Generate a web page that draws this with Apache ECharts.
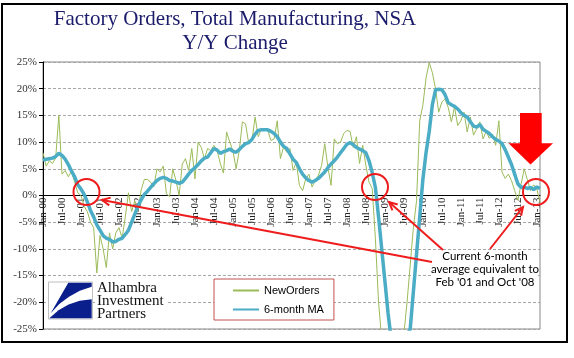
<!DOCTYPE html>
<html>
<head>
<meta charset="utf-8">
<script src="https://cdn.jsdelivr.net/npm/echarts@6/dist/echarts.min.js"></script>
<style>
html,body{margin:0;padding:0;background:#fff;}
#chart{width:574px;height:358px;}
</style>
</head>
<body>
<div id="chart"></div>
<script>
// ---- data ----
const monthNames = ['Jan','Feb','Mar','Apr','May','Jun','Jul','Aug','Sep','Oct','Nov','Dec'];
const yearLabels = ['00','01','02','03','04','05','06','07','08','09','10','11','12','13'];
const monthCount = 158; // Jan-00 .. Feb-13

const newOrders = [
  // 2000
  8, 5.5, 6.5, 6, 7, 15, 4, 4.7, 3.5, 4.5, 2.5, 0.5,
  // 2001
  0, -2, -3, -5, -6, -14.5, -7.5, -10, -13.5, -7, -10, -7,
  // 2002
  -6, -8, -4, 0.5, -3, -1, -3, 1, 3, 3, 2.5, 1.6,
  // 2003
  5, 4.4, 5.5, 0.3, -0.2, 5, 2.8, 0, 5.9, 6.9, 4.7, 8.8,
  // 2004
  3.1, 10, 9, 6.9, 8.8, 8.4, 9.4, 8.4, 6, 4.2, 11.9, 10,
  // 2005
  8.4, 5, 8.4, 13.8, 13.4, 9.7, 10.3, 14.7, 11, 12.5, 12.5, 12.2,
  // 2006
  10.3, 10.6, 14, 6.9, 9.1, 8.1, 8.8, 4.7, 6.2, 1.9, 0.9, 3.1,
  // 2007
  4, 1.6, 2.8, 3.8, 5.6, 9.7, 5.3, 1.9, 10.6, 9.7, 10, 11.6,
  // 2008
  12.2, 12, 9, 11, 6, 9.4, 5.6, 2.5, 1.3, -8, -20, -27,
  // 2009
  -30, -32, -33, -32, -33, -30, -26, -20, -13, -6, -1, 14,
  // 2010
  16.9, 22, 24.9, 23, 20, 15.6, 17.5, 18.1, 16.5, 13.8, 16.6, 13.1,
  // 2011
  14, 15.6, 11.9, 14.7, 11.3, 12.5, 13.8, 10.6, 12, 10.7, 11.5, 9.4,
  // 2012
  14, 4.4, 3.2, 4, 2.8, 0.9, -0.9, 2, 5, 3, 0.9, 2,
  // 2013
  1.3, -1.3
];

const movingAvg = [
  // 2000
  6.6, 6.8, 6.9, 7.0, 7.3, 7.9, 7.5, 6.8, 5.8, 4.6, 3.5, 2.0,
  // 2001
  1.2, 0.2, -1.2, -2.8, -4, -5.5, -6.5, -7.5, -8, -8.2, -8.7, -8.6,
  // 2002
  -8.2, -8, -7.3, -6.5, -5, -3.5, -2, -0.8, 0.2, 0.8, 1.5, 2.2,
  // 2003
  2.8, 3.2, 3.4, 3.2, 2.8, 2.7, 2.5, 2.3, 2.5, 3.2, 4, 4.7,
  // 2004
  5.2, 5.8, 6.5, 7, 7.2, 8, 8.8, 8.5, 7.9, 8.2, 8.4, 8.7,
  // 2005
  8.3, 8.1, 8.6, 9.2, 9.7, 9.9, 10.5, 11.5, 12.2, 12.3, 12.3, 12.3,
  // 2006
  12, 11.6, 11, 10, 9.2, 8.8, 7.8, 6.8, 6.2, 5, 4, 3.3,
  // 2007
  2.8, 2.5, 2.8, 3.2, 3.8, 4.4, 5.2, 5.9, 6.5, 7.2, 8, 8.8,
  // 2008
  9.6, 9.9, 9.5, 9, 8.7, 8.4, 8, 6.5, 4.3, 1.5, -4, -10,
  // 2009
  -16, -22, -27, -30, -31, -30, -28, -26, -25, -18, -11, -4,
  // 2010
  3, 8, 12, 17, 19.8, 19.9, 19.8, 18.9, 17.4, 17, 16.7, 16.2,
  // 2011
  15.5, 15, 14.7, 13.8, 13, 12.8, 13.3, 12.4, 12, 11.6, 11, 10.5,
  // 2012
  10.2, 9.7, 8.6, 7.2, 5.8, 4, 2.2, 1.5, 1.6, 1.3, 1.5, 1.1,
  // 2013
  1.6, 1.3
];

const seriesNames = ['NewOrders', '6-month MA'];
const titleLines = ['Factory Orders, Total Manufacturing, NSA', 'Y/Y Change'];
const noteLines = ['Current 6-month', 'average equivalent to', "Feb '01 and Oct '08"];
const logoLines = ['Alhambra', 'Investment', 'Partners'];

const categories = [];
for (let i = 0; i < monthCount; i++) {
  categories.push(monthNames[i % 12] + '-' + yearLabels[Math.floor(i / 12)]);
}

// ---- layout ----
const GRID = {left:43, right:34, top:62, bottom:29};
const PLOT_BOTTOM = 358 - GRID.bottom;
const ZERO_Y = GRID.top + (PLOT_BOTTOM - GRID.top) / 2;

// ---- helpers for annotation arrows ----
function arrowHead(x1, y1, x2, y2, len, ang) {
  const a = Math.atan2(y1 - y2, x1 - x2);
  return [
    [x2 + len * Math.cos(a + ang), y2 + len * Math.sin(a + ang)],
    [x2, y2],
    [x2 + len * Math.cos(a - ang), y2 + len * Math.sin(a - ang)]
  ];
}
const RED = '#ee1c1c';
function arrow(x1, y1, x2, y2) {
  return [
    {type:'line', z:100, shape:{x1:x1, y1:y1, x2:x2, y2:y2}, style:{stroke:RED, lineWidth:2}},
    {type:'polyline', z:100, shape:{points:arrowHead(x1, y1, x2, y2, 9, 0.45)}, style:{stroke:RED, lineWidth:2, fill:null}}
  ];
}
function ring(cx, cy, r) {
  return {type:'circle', z:100, shape:{cx:cx, cy:cy, r:r}, style:{fill:null, stroke:RED, lineWidth:2}};
}

const chart = echarts.init(document.getElementById('chart'), null, {renderer:'canvas'});

const graphics = [
  // outer frame
  {type:'rect', z:50, shape:{x:2, y:4, width:565, height:338}, style:{fill:null, stroke:'#000', lineWidth:2}},
  // title
  {type:'text', z:60, x:235, y:7, style:{text:titleLines.join('\n'), textAlign:'center', fill:'#1b1b6b',
     font:'21px "Liberation Serif"', lineHeight:24}},
  // logo
  {type:'rect', z:60, shape:{x:95, y:281, width:72, height:39}, style:{fill:'#fff', stroke:null}},
  {type:'rect', z:60, shape:{x:48.5, y:282, width:44, height:37}, style:{fill:'#fff', stroke:'#bfbfbf', lineWidth:1}},
  {type:'polygon', z:61, shape:{points:[[68.3,282.7],[91.7,282.7],[91.7,286.7],[79.8,290.8],[69,296.7],[59.3,304.1],[50.7,313.3]]}, style:{fill:'#0b1f8c'}},
  {type:'polygon', z:61, shape:{points:[[49.3,318.3],[91.7,318.3],[91.7,299.3],[79.7,300.8],[68.6,304.4],[58.5,310.3]]}, style:{fill:'#0b1f8c'}},
  {type:'text', z:61, x:97, y:282, style:{text:logoLines.join('\n'), fill:'#111', font:'15px "Liberation Serif"', lineHeight:12.7}},
  // note text
  {type:'rect', z:60, shape:{x:433, y:250, width:104, height:40}, style:{fill:'#fff', stroke:null}},
  {type:'text', z:61, x:485, y:250, style:{text:noteLines.join('\n'), textAlign:'center', fill:'#000', font:'11.5px Lato', lineHeight:12.8}},
  // rings
  ring(86.5, 192, 13),
  ring(375, 187, 13),
  ring(536, 192, 13),
  // big down arrow
  {type:'polygon', z:100, shape:{points:[[520,113],[541.7,113],[541.7,143.3],[553,143.3],[530.5,164.5],[508.5,143.3],[520,143.3]]}, style:{fill:'#ff0000'}}
].concat(arrow(432, 262, 102, 200), arrow(443, 250, 389, 202), arrow(490, 249, 523, 207));

chart.setOption({
  animation:false,
  backgroundColor:'#fff',
  grid:{left:GRID.left, right:GRID.right, top:GRID.top, bottom:GRID.bottom, show:true, borderColor:'#878787', borderWidth:1},
  legend:{
    orient:'vertical', left:214, top:279, padding:[6,10,5,18], itemGap:8,
    itemWidth:26, itemHeight:12, borderColor:'#c0504d', borderWidth:1, backgroundColor:'#fff',
    itemStyle:{opacity:0, color:'transparent', borderColor:'transparent'},
    textStyle:{fontFamily:'Liberation Sans', fontSize:11, color:'#000'},
    data:seriesNames
  },
  xAxis:{
    type:'category', data:categories, boundaryGap:false,
    axisLine:{onZero:true, lineStyle:{color:'#000', width:1}},
    axisTick:{show:false},
    axisLabel:{interval:5, rotate:90, fontFamily:'Liberation Serif', fontSize:11, color:'#222',
               margin:-(PLOT_BOTTOM - ZERO_Y) + 2},
    splitLine:{show:false}
  },
  yAxis:{
    type:'value', min:-25, max:25, interval:5,
    axisLine:{show:true, lineStyle:{color:'#000', width:1}},
    axisTick:{show:true, length:4, lineStyle:{color:'#000'}},
    axisLabel:{formatter:'{value}%', fontFamily:'Liberation Serif', fontSize:11, color:'#333', margin:6},
    splitLine:{lineStyle:{color:'#a6a6a6', type:[3,2]}}
  },
  series:[
    {name:seriesNames[0], type:'line', data:newOrders, symbol:'none', clip:true, z:2,
     lineStyle:{color:'#9bbb59', width:1}, itemStyle:{color:'#9bbb59'}},
    {name:seriesNames[1], type:'line', data:movingAvg, symbol:'none', clip:true, z:3,
     lineStyle:{color:'#4bacc6', width:3.5}, itemStyle:{color:'#4bacc6'}}
  ],
  graphic:graphics
});
</script>
</body>
</html>
